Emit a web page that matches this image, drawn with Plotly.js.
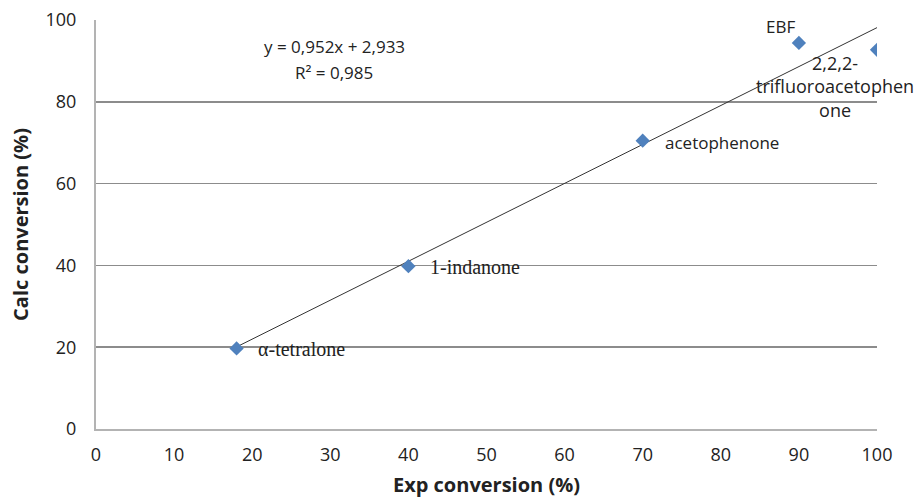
<!DOCTYPE html>
<html>
<head>
<meta charset="utf-8">
<script src="https://cdn.plot.ly/plotly-3.0.1.min.js"></script>
<style>html,body{margin:0;padding:0;background:#fff;}#chart{width:916px;height:498px;}</style>
</head>
<body>
<div id="chart"></div>
<script>
// Data
var compounds = ["α-tetralone", "1-indanone", "acetophenone", "EBF", "2,2,2-<br>trifluoroacetophen<br>one"];
var expConversion = [18, 40, 70, 90, 100];
var calcConversion = [19.7, 39.8, 70.5, 94.4, 92.7];
var trendSlope = 0.952;
var trendIntercept = 2.933;
var trendX = [18, 100];
var equationText = "y = 0,952x + 2,933";
var r2Text = "R² = 0,985";
var xTicks = [0, 10, 20, 30, 40, 50, 60, 70, 80, 90, 100];
var yTicks = [0, 20, 40, 60, 80, 100];

var trendY = trendX.map(function (x) { return trendSlope * x + trendIntercept; });

var traces = [
  {
    x: trendX, y: trendY, mode: 'lines', type: 'scatter',
    line: { color: '#333333', width: 1 }, hoverinfo: 'skip', showlegend: false
  },
  {
    x: expConversion, y: calcConversion, mode: 'markers', type: 'scatter',
    marker: { symbol: 'diamond', size: 11, color: '#4F81BD' }, showlegend: false
  }
];

var serif = { family: 'Liberation Serif', size: 20, color: '#222' };
var sans = { family: 'Open Sans', size: 17, color: '#222' };
var sansBig = { family: 'Open Sans', size: 18, color: '#222' };
var labelStyles = [
  { xanchor: 'left', yanchor: 'middle', xshift: 19, yshift: -1, font: serif },
  { xanchor: 'left', yanchor: 'middle', xshift: 20, yshift: -1, font: serif },
  { xanchor: 'left', yanchor: 'middle', xshift: 20, yshift: -2, font: sans },
  { xanchor: 'center', yanchor: 'middle', xshift: -18, yshift: 16, font: sans },
  { xanchor: 'center', yanchor: 'middle', xshift: -42, yshift: -37, font: sansBig }
];

var annotations = compounds.map(function (name, i) {
  var s = labelStyles[i];
  return {
    x: expConversion[i], y: calcConversion[i], xref: 'x', yref: 'y',
    text: name, showarrow: false, xanchor: s.xanchor, yanchor: s.yanchor,
    xshift: s.xshift, yshift: s.yshift, font: s.font, align: 'center'
  };
});

annotations.push({
  xref: 'paper', yref: 'paper', x: 0.305, y: 0.936, text: equationText,
  showarrow: false, xanchor: 'center', yanchor: 'middle',
  font: { family: 'Open Sans', size: 17, color: '#222' }
});
annotations.push({
  xref: 'paper', yref: 'paper', x: 0.305, y: 0.872, text: r2Text,
  showarrow: false, xanchor: 'center', yanchor: 'middle',
  font: { family: 'Open Sans', size: 17, color: '#222' }
});

var layout = {
  width: 916, height: 498,
  margin: { l: 96, r: 39, t: 20, b: 69 },
  paper_bgcolor: '#ffffff', plot_bgcolor: '#ffffff',
  font: { family: 'Open Sans', color: '#222' },
  xaxis: {
    range: [0, 100], tickvals: xTicks, showgrid: false, zeroline: false,
    showline: true, linecolor: '#b3b3b3', linewidth: 2,
    ticks: 'outside', ticklen: 8, tickcolor: 'rgba(0,0,0,0)',
    tickfont: { family: 'Open Sans', size: 18, color: '#222' },
    title: { text: 'Exp conversion (%)', standoff: 14, font: { family: 'Open Sans', size: 20, color: '#222', weight: 'bold' } }
  },
  yaxis: {
    range: [0, 100], tickvals: yTicks, showgrid: true, gridcolor: '#8c8c8c', gridwidth: 1.5,
    zeroline: false, showline: true, linecolor: '#b3b3b3', linewidth: 2,
    ticks: 'outside', ticklen: 14, tickcolor: 'rgba(0,0,0,0)',
    tickfont: { family: 'Open Sans', size: 18, color: '#222' },
    title: { text: 'Calc conversion (%)', standoff: 12, font: { family: 'Open Sans', size: 20, color: '#222', weight: 'bold' } }
  },
  annotations: annotations
};

Plotly.newPlot('chart', traces, layout, { displayModeBar: false, staticPlot: true });
</script>
</body>
</html>
